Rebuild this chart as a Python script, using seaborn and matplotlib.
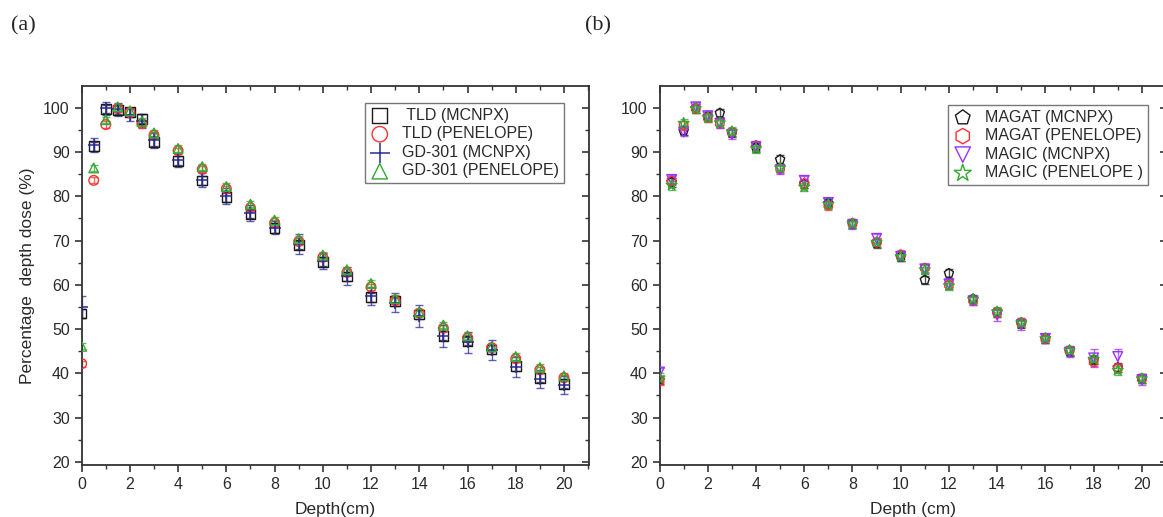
import matplotlib
matplotlib.use("Agg")
import matplotlib.pyplot as plt
import seaborn as sns
from matplotlib.ticker import MultipleLocator

sns.set_style("ticks")
plt.rcParams["font.family"] = ["Liberation Sans", "DejaVu Sans"]

# depth positions (cm), shared by both panels
depth = [0, 0.5, 1, 1.5, 2, 2.5, 3, 4, 5, 6, 7, 8, 9, 10,
         11, 12, 13, 14, 15, 16, 17, 18, 19, 20]

# panel (a)
tld_mcnpx = [53.5, 91.3, 99.7, 99.5, 99.0, 97.5, 92.3, 88.0, 83.6, 79.8, 76.0, 72.8,
             69.0, 65.2, 61.9, 57.2, 56.3, 53.3, 48.5, 47.3, 45.4, 41.6, 39.0, 37.6]
tld_pen = [42.2, 83.6, 96.2, 99.8, 98.9, 96.4, 93.8, 90.3, 86.1, 81.7, 77.4, 74.0,
           69.8, 66.2, 62.8, 59.5, 56.4, 53.6, 50.2, 48.0, 45.8, 43.3, 40.8, 39.0]
gd_mcnpx = [55.0, 91.6, 99.9, 99.6, 98.4, 97.0, 92.6, 88.2, 83.7, 80.0, 76.2, 72.9,
            69.2, 65.4, 62.0, 57.5, 56.0, 53.0, 48.4, 47.0, 45.3, 41.5, 38.8, 37.4]
gd_pen = [46.1, 86.4, 97.3, 100.2, 99.3, 96.9, 94.3, 90.8, 86.7, 82.2, 78.2, 74.6,
          70.4, 66.7, 63.4, 60.3, 56.9, 53.9, 50.9, 48.5, 46.0, 43.8, 41.3, 39.4]
tld_mcnpx_err = [1.0] * 24
tld_pen_err = [0.7] * 24
gd_mcnpx_err = [2.5, 1.5, 1.5, 1.5, 1.5, 1.5, 1.8, 1.5, 1.5, 1.8, 1.8, 1.5,
                2.3, 1.8, 2.0, 2.0, 2.2, 2.5, 2.5, 2.3, 2.3, 2.3, 2.0, 2.0]
gd_pen_err = [0.7] * 24

# panel (b)
magat_mcnpx = [38.5, 83.2, 94.8, 99.9, 98.0, 98.8, 94.3, 91.0, 88.3, 82.8, 78.4, 73.8,
               69.4, 66.3, 61.1, 62.6, 56.8, 53.8, 51.2, 47.8, 45.0, 43.0, 41.3, 38.8]
magat_pen = [38.3, 83.5, 96.0, 99.9, 97.8, 96.5, 94.5, 91.5, 86.3, 82.9, 78.0, 73.9,
             69.6, 66.8, 63.8, 60.0, 56.5, 53.8, 51.5, 47.8, 45.2, 42.6, 41.2, 38.8]
magic_mcnpx = [40.3, 83.8, 94.5, 100.2, 98.2, 96.5, 94.0, 91.2, 86.0, 83.6, 78.6, 73.6,
               70.5, 66.4, 63.6, 60.2, 56.4, 53.2, 51.0, 47.9, 44.8, 43.5, 43.8, 38.6]
magic_pen = [39.0, 82.5, 96.5, 99.8, 97.8, 96.6, 94.6, 90.8, 86.4, 82.1, 78.2, 73.8,
             69.6, 66.4, 63.4, 59.8, 56.7, 53.9, 51.4, 47.9, 45.2, 43.2, 40.7, 38.8]
magat_mcnpx_err = [1.0] * 24
magat_pen_err = [1.0] * 24
magic_mcnpx_err = [1.0] * 17 + [1.3, 1.2, 1.0, 1.0, 2.0, 1.8, 1.2]
magic_pen_err = [1.0] * 24

series_a = [
    (" TLD (MCNPX)", tld_mcnpx, tld_mcnpx_err, "s", "#1a1a1a"),
    ("TLD (PENELOPE)", tld_pen, tld_pen_err, "o", "#ff3030"),
    ("GD-301 (MCNPX)", gd_mcnpx, gd_mcnpx_err, "+", "#2a2a9a"),
    ("GD-301 (PENELOPE)", gd_pen, gd_pen_err, "^", "#33a833"),
]
series_b = [
    ("MAGAT (MCNPX)", magat_mcnpx, magat_mcnpx_err, "p", "#1a1a1a"),
    ("MAGAT (PENELOPE)", magat_pen, magat_pen_err, "h", "#ff3030"),
    ("MAGIC (MCNPX)", magic_mcnpx, magic_mcnpx_err, "v", "#9b30ff"),
    ("MAGIC (PENELOPE )", magic_pen, magic_pen_err, "*", "#33a833"),
]

text_col = "#2a2a2a"

fig = plt.figure(figsize=(11.63, 5.17), dpi=100)
ax_a = fig.add_axes([0.0702, 0.1006, 0.4365, 0.733])
ax_b = fig.add_axes([0.5671, 0.1006, 0.4365, 0.733])


def draw_panel(ax, series, xlabel, legend_xy):
    for label, vals, errs, marker, col in series:
        ax.errorbar(depth, vals, yerr=errs, fmt="none", ecolor=col, elinewidth=1,
                    capsize=3, capthick=1, alpha=0.75, zorder=2)
        if marker == "+":
            sns.scatterplot(x=depth, y=vals, marker=marker, s=80, color=col,
                            linewidth=1.1, ax=ax, label=label, zorder=3)
        else:
            s = 65 if marker == "*" else 48
            sns.scatterplot(x=depth, y=vals, marker=marker, s=s, color=col,
                            facecolor="none", edgecolor=col, linewidth=1,
                            ax=ax, label=label, zorder=3)

    ax.set_xlim(0, 21.05)
    ax.set_ylim(19.3, 104.9)
    ax.xaxis.set_major_locator(MultipleLocator(2))
    ax.xaxis.set_minor_locator(MultipleLocator(1))
    ax.yaxis.set_major_locator(MultipleLocator(10))
    ax.yaxis.set_minor_locator(MultipleLocator(5))
    ax.tick_params(which="major", direction="out", length=5, width=1.2,
                   labelsize=11.5, labelcolor=text_col, color="#333333")
    ax.tick_params(which="minor", direction="out", length=3, width=1.0, color="#333333")
    for sp in ax.spines.values():
        sp.set_visible(True)
        sp.set_linewidth(1.3)
        sp.set_color("#333333")

    # mirrored ticks pointing inwards on top and right
    top = ax.secondary_xaxis("top")
    top.xaxis.set_major_locator(MultipleLocator(2))
    top.xaxis.set_minor_locator(MultipleLocator(1))
    top.tick_params(which="major", direction="in", length=5, width=1.2,
                    labeltop=False, color="#333333")
    top.tick_params(which="minor", direction="in", length=3, width=1.0, color="#333333")
    top.spines["top"].set_visible(False)
    right = ax.secondary_yaxis("right")
    right.yaxis.set_major_locator(MultipleLocator(10))
    right.yaxis.set_minor_locator(MultipleLocator(5))
    right.tick_params(which="major", direction="in", length=5, width=1.2,
                      labelright=False, color="#333333")
    right.tick_params(which="minor", direction="in", length=3, width=1.0, color="#333333")
    right.spines["right"].set_visible(False)

    ax.set_xlabel(xlabel, fontsize=12.5, color=text_col, labelpad=7)

    leg = ax.legend(loc="upper right", bbox_to_anchor=legend_xy, frameon=True,
                    fancybox=False, edgecolor="#555555", markerscale=1.6,
                    fontsize=11.5, labelspacing=0.22, handletextpad=0.8,
                    borderpad=0.3, handlelength=1.2, borderaxespad=0)
    leg.get_frame().set_linewidth(1.0)
    for t in leg.get_texts():
        t.set_color(text_col)


draw_panel(ax_a, series_a, "Depth(cm)", (0.95, 0.955))
draw_panel(ax_b, series_b, "Depth (cm)", (0.962, 0.95))
ax_a.set_ylabel("Percentage  depth dose (%)", fontsize=12.5, color=text_col, labelpad=6)

serif = ["Liberation Serif", "DejaVu Serif"]
fig.text(0.0095, 0.95, "(a)", fontsize=16, family=serif, va="center", ha="left")
fig.text(0.503, 0.95, "(b)", fontsize=16, family=serif, va="center", ha="left")

fig.savefig("out.png", dpi=100)
